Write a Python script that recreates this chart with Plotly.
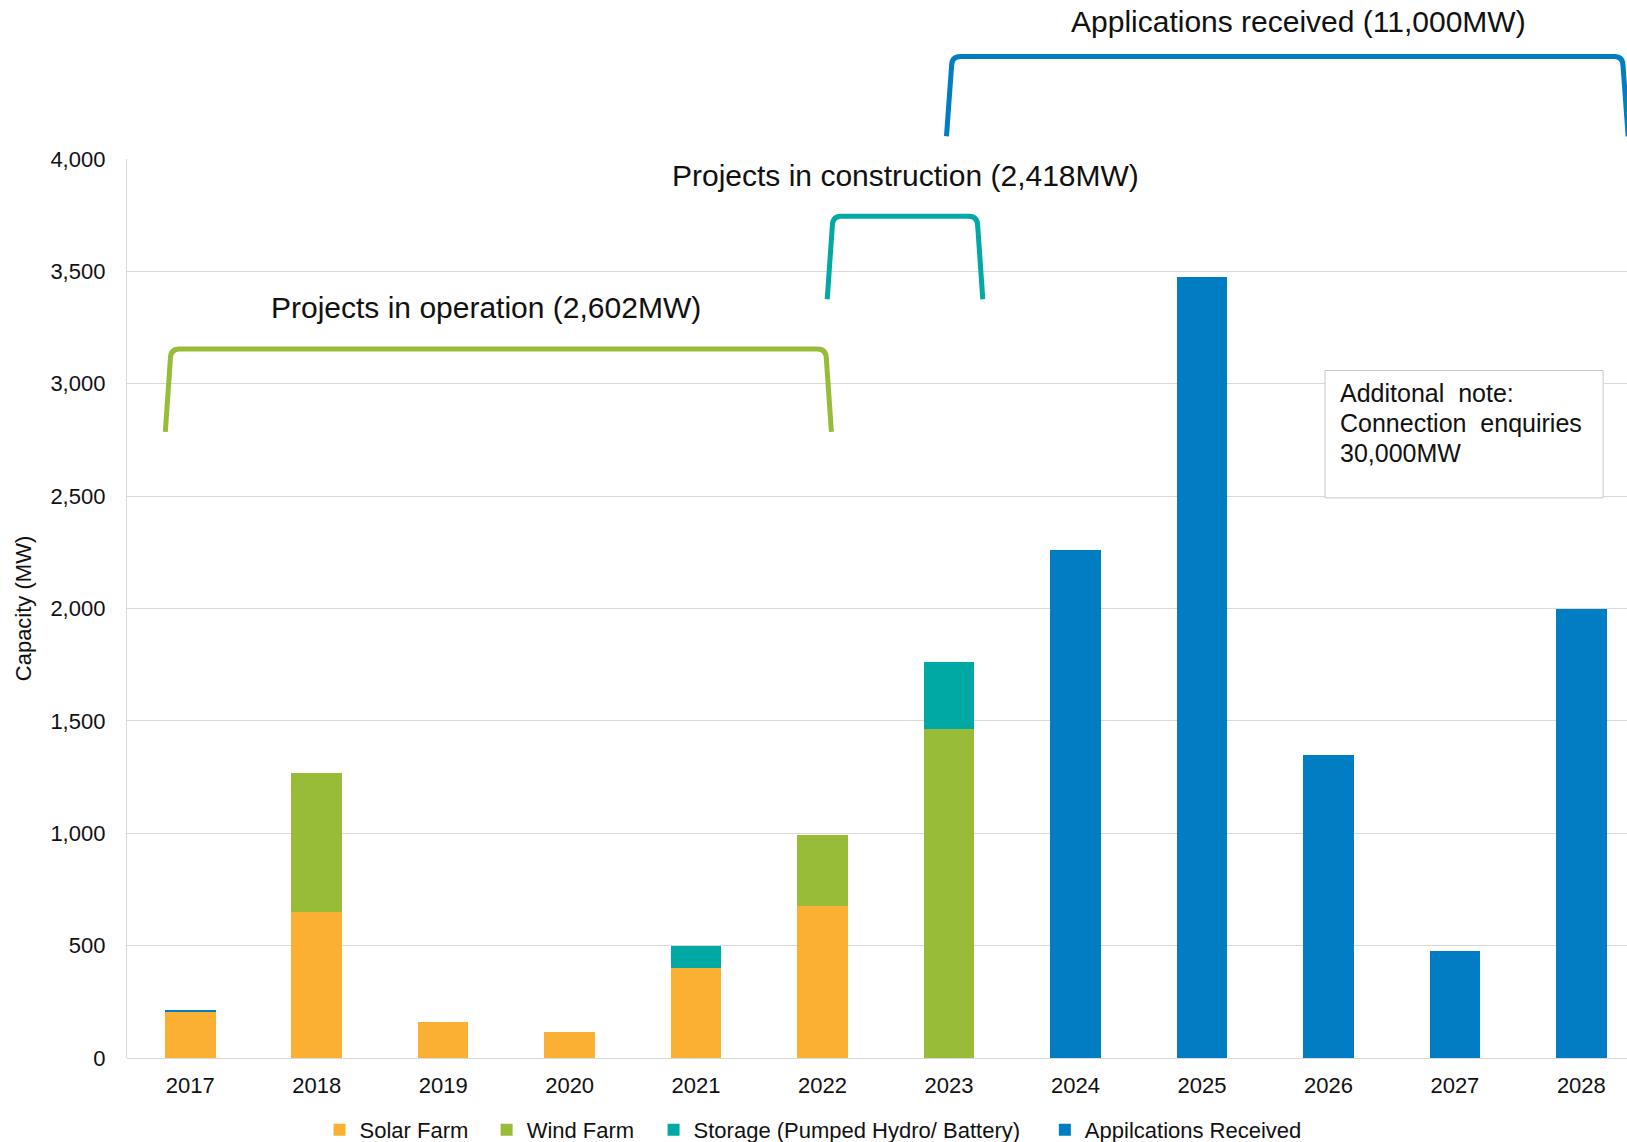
import plotly.graph_objects as go

years = [2017, 2018, 2019, 2020, 2021, 2022, 2023, 2024, 2025, 2026, 2027, 2028]
solar = [205, 650, 161, 115, 401, 678, 0, 0, 0, 0, 0, 0]
wind = [0, 618, 0, 0, 0, 314, 1462, 0, 0, 0, 0, 0]
storage = [0, 0, 0, 0, 97, 0, 300, 0, 0, 0, 0, 0]
applications = [8, 0, 0, 0, 0, 0, 0, 2260, 3473, 1347, 475, 1997]

series_names = ["Solar Farm", "Wind Farm", "Storage (Pumped Hydro/ Battery)", "Appilcations Received"]
series_colors = ["#FBB034", "#99BC38", "#00A9A4", "#007DC3"]
y_ticks = [0, 500, 1000, 1500, 2000, 2500, 3000, 3500, 4000]
note_lines = ["Additonal  note:", "Connection  enquiries", "30,000MW"]

FONT = "Liberation Sans, Arial, sans-serif"
TXT = "#111111"

legend_ids = ["legend", "legend2", "legend3", "legend4"]
legend_x = [0.1964, 0.2991, 0.4017, 0.6422]

fig = go.Figure()
for name, vals, col, lg in zip(series_names, [solar, wind, storage, applications], series_colors, legend_ids):
    fig.add_trace(go.Bar(x=years, y=vals, name=name, legend=lg, showlegend=True,
                         marker=dict(color=col, line=dict(width=0))))


def bracket(x0, x3, yt, yb, rx, ry, slant):
    x1 = x0 + slant
    x2 = x3 - slant
    return (f"M {x0},{yb} L {x1},{yt - ry} Q {x1},{yt} {x1 + rx},{yt} "
            f"L {x2 - rx},{yt} Q {x2},{yt} {x2},{yt - ry} L {x3},{yb}")


shapes = [
    dict(type="path", xref="x", yref="y",
         path=bracket(2016.803, 2022.07, 3155, 2786, 0.07, 45, 0.04),
         line=dict(color="#99BC38", width=5), layer="above"),
    dict(type="path", xref="x", yref="y",
         path=bracket(2022.037, 2023.267, 3745, 3376, 0.07, 45, 0.04),
         line=dict(color="#00A9A4", width=5), layer="above"),
    dict(type="path", xref="x", yref="paper",
         path=bracket(2022.98, 2028.37, 4456 / 4000, 4101 / 4000, 0.07, 0.011, 0.04),
         line=dict(color="#007DC3", width=5), layer="above"),
    # note box
    dict(type="rect", xref="x", yref="y", x0=2025.973, x1=2028.172, y0=2492, y1=3059,
         line=dict(color="#c8c8c8", width=1), fillcolor="white", layer="above"),
]

annotations = [
    dict(x=2019.342, y=3339, xref="x", yref="y", xanchor="center", yanchor="middle",
         text="Projects in operation (2,602MW)",
         showarrow=False, font=dict(family=FONT, size=30, color=TXT)),
    dict(x=2022.652, y=3925, xref="x", yref="y", xanchor="center", yanchor="middle",
         text="Projects in construction (2,418MW)",
         showarrow=False, font=dict(family=FONT, size=30, color=TXT)),
    dict(x=2025.761, y=4613 / 4000, xref="x", yref="paper", xanchor="center", yanchor="middle",
         text="Applications received (11,000MW)",
         showarrow=False, font=dict(family=FONT, size=30, color=TXT)),
]
for txt, ly in zip(note_lines, [2960, 2827, 2693]):
    annotations.append(dict(x=2026.079, y=ly, xref="x", yref="y", xanchor="left", yanchor="middle",
                            text=txt, showarrow=False,
                            font=dict(family=FONT, size=25, color=TXT)))

legend_common = dict(orientation="h", xref="container", yref="container",
                     xanchor="left", yanchor="middle", y=0.0105,
                     font=dict(family=FONT, size=22, color=TXT),
                     itemwidth=30, bgcolor="rgba(0,0,0,0)")

layout_legends = {lg: dict(legend_common, x=lx) for lg, lx in zip(legend_ids, legend_x)}

fig.update_layout(
    width=1627, height=1142,
    margin=dict(l=127, r=0, t=159, b=84),
    paper_bgcolor="white", plot_bgcolor="white",
    barmode="stack", bargap=0.6, showlegend=True,
    font=dict(family=FONT, size=22, color=TXT),
    shapes=shapes, annotations=annotations,
    xaxis=dict(range=[2016.5, 2028.361], tickmode="array", tickvals=years,
               ticktext=[str(y) for y in years], showgrid=False, zeroline=False,
               showline=False, ticks="", ticklabelstandoff=12,
               tickfont=dict(family=FONT, size=22, color=TXT)),
    yaxis=dict(range=[0, 4000], tickmode="array", tickvals=y_ticks, tickformat=",d",
               showgrid=True, gridcolor="#d9d9d9", gridwidth=1.3,
               zeroline=True, zerolinecolor="#d9d9d9", zerolinewidth=1.3,
               showline=True, linecolor="#d9d9d9", linewidth=1.3,
               ticks="", ticklabelstandoff=16,
               tickfont=dict(family=FONT, size=22, color=TXT),
               title=dict(text="Capacity (MW)", standoff=12,
                          font=dict(family=FONT, size=22, color=TXT))),
    **layout_legends,
)

fig.write_html("out.html", config={"displayModeBar": False},
               post_script="document.body.style.margin='0';")
